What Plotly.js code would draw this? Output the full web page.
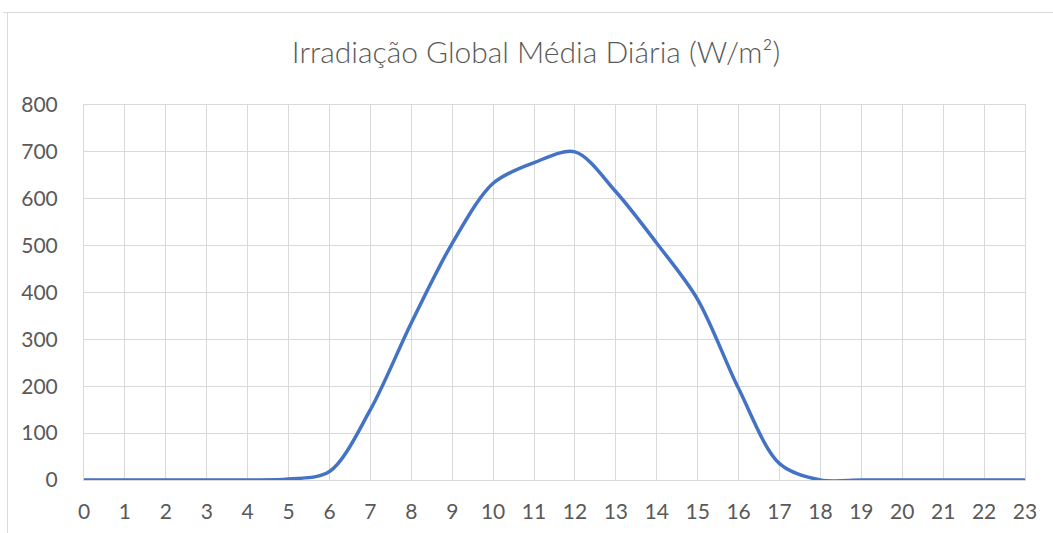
<!DOCTYPE html>
<html><head><meta charset="utf-8">
<script src="https://cdn.plot.ly/plotly-3.0.1.min.js"></script>
<style>html,body{margin:0;padding:0;background:#fff}#chart{width:1053px;height:533px}</style>
</head><body><div id="chart"></div>
<script>
const hours = [0,1,2,3,4,5,6,7,8,9,10,11,12,13,14,15,16,17,18,19,20,21,22,23];
const irradiance = [0,0,0,0,0,2,18,150,335,505,633,677,700,615,505,385,195,35,0,0,0,0,0,0];
const titleText = 'Irradiação Global Média Diária (W/m²)';
const yTicks = [0,100,200,300,400,500,600,700,800];

const W = 1053, H = 533;
const m = {l:84, r:28, t:105, b:53};
const pw = W - m.l - m.r, ph = H - m.t - m.b;
const px = v => (v - m.l) / pw;
const py = v => (H - m.b - v) / ph;

const trace = {
  x: hours, y: irradiance, type: 'scatter', mode: 'lines',
  line: {color: '#4472C4', width: 3.5, shape: 'spline', smoothing: 0.9},
  hoverinfo: 'skip'
};
const font = "Lato, 'Open Sans', sans-serif";
const layout = {
  width: W, height: H,
  margin: m,
  paper_bgcolor: '#fff', plot_bgcolor: '#fff',
  showlegend: false,
  title: {text: titleText, x: (536 - m.l) / pw, xref: 'paper', xanchor: 'center', y: 1 - 52/H, yanchor: 'middle',
          font: {family: font, size: 30, color: '#595959', weight: 300}},
  xaxis: {range: [0, 23], tickvals: hours, ticktext: hours.map(String),
          showgrid: true, gridcolor: '#D9D9D9', gridwidth: 1,
          showline: true, mirror: true, linecolor: '#D9D9D9', linewidth: 1,
          zeroline: false, ticks: '', ticklabelstandoff: 13,
          tickfont: {family: font, size: 21, color: '#595959'}, fixedrange: true},
  yaxis: {range: [0, 800], tickvals: yTicks, ticktext: yTicks.map(String),
          showgrid: true, gridcolor: '#D9D9D9', gridwidth: 1,
          showline: true, mirror: true, linecolor: '#D9D9D9', linewidth: 1,
          zeroline: false, ticks: '', ticklabelstandoff: 21,
          tickfont: {family: font, size: 21, color: '#595959'}, fixedrange: true},
  shapes: [
    {type: 'line', xref: 'paper', yref: 'paper', x0: px(7.5), x1: px(7.5), y0: py(12), y1: py(540),
     line: {color: '#D9D9D9', width: 1}},
    {type: 'line', xref: 'paper', yref: 'paper', x0: px(3), x1: px(1060), y0: py(12.5), y1: py(12.5),
     line: {color: '#D9D9D9', width: 1}}
  ]
};
Plotly.newPlot('chart', [trace], layout, {displayModeBar: false, staticPlot: true});
</script></body></html>
